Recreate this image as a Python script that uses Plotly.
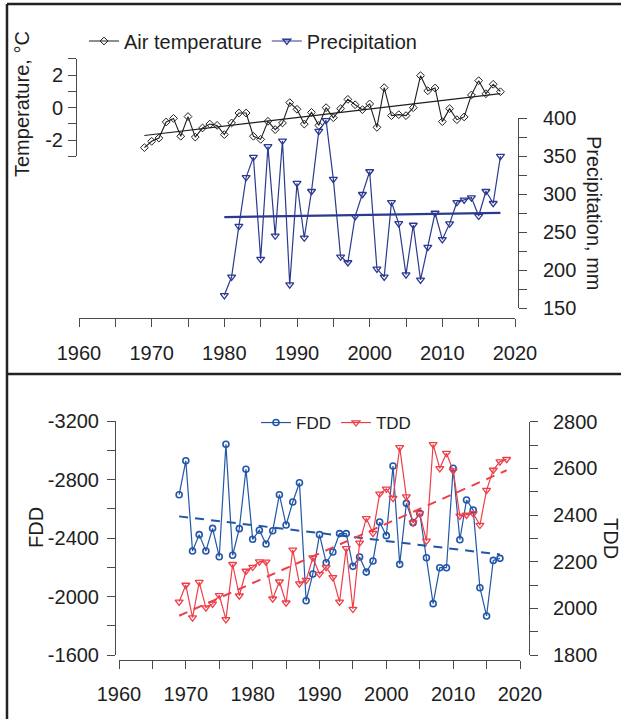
import numpy as np
import plotly.graph_objects as go

# ---------------- data ----------------
years_temp = list(range(1969, 2019))
air_temp = [-2.47, -2.08, -1.88, -0.89, -0.67, -1.77, -0.56, -1.82, -1.26, -1.02,
            -1.10, -1.67, -0.95, -0.34, -0.34, -1.77, -1.96, -0.85, -1.36, -0.95,
            0.30, -0.11, -1.02, -0.30, -1.10, -0.01, -0.63, -0.07, 0.50, 0.17,
            -0.13, 0.22, -1.22, 1.22, -0.50, -0.44, -0.50, -0.01, 1.96, 1.03,
            1.20, -0.87, -0.07, -0.75, -0.58, 0.77, 1.65, 0.85, 1.43, 0.97]

years_prec = list(range(1980, 2019))
precip = [166.7, 191, 257.8, 322, 348.5, 214.3, 362.6, 245, 370, 180.8,
          314.2, 242.4, 303.6, 382.8, 396.9, 319.5, 217.4, 209.9, 270.6, 299.7,
          329.6, 201.5, 191, 289.1, 261.4, 194, 259.2, 187, 230.1, 275,
          240.2, 261, 289.1, 292.2, 295.3, 271, 303.6, 287.8, 349.8]

years_fdd = list(range(1969, 2018))
fdd = [-2696, -2928, -2311, -2423, -2311, -2466, -2272, -3041, -2282, -2464,
       -2870, -2391, -2453, -2359, -2450, -2696, -2489, -2646, -2778, -1971,
       -2154, -2423, -2231, -2304, -2430, -2430, -2206, -2270, -2167, -2243,
       -2509, -2416, -2892, -2220, -2637, -2505, -2569, -2265, -1951, -2197,
       -2197, -2877, -2388, -2660, -2591, -2060, -1867, -2247, -2261]

years_tdd = list(range(1969, 2019))
tdd = [2028, 2100, 1960, 2112, 2003, 2019, 2056, 1953, 2189, 2054,
       2160, 2177, 2200, 2199, 2041, 2114, 2024, 2251, 2106, 2121,
       2217, 2147, 2176, 2133, 2028, 2257, 1997, 2281, 2386, 2322,
       2491, 2512, 2472, 2690, 2479, 2367, 2407, 2289, 2703, 2600,
       2665, 2590, 2396, 2400, 2407, 2357, 2507, 2593, 2629, 2639]

# tick values / labels
x_tickvals = [1960, 1965, 1970, 1975, 1980, 1985, 1990, 1995, 2000, 2005, 2010, 2015, 2020]
x_ticktext = ['1960', '', '1970', '', '1980', '', '1990', '', '2000', '', '2010', '', '2020']
t_tickvals = [-3, -2, -1, 0, 1, 2, 3]
t_ticktext = ['', '-2', '', '0', '', '2', '']
p_tickvals = [150, 175, 200, 225, 250, 275, 300, 325, 350, 375, 400]
p_ticktext = ['150', '', '200', '', '250', '', '300', '', '350', '', '400']
f_tickvals = [-3200, -3000, -2800, -2600, -2400, -2200, -2000, -1800, -1600]
f_ticktext = ['-3200', '', '-2800', '', '-2400', '', '-2000', '', '-1600']
d_tickvals = [1800, 1900, 2000, 2100, 2200, 2300, 2400, 2500, 2600, 2700, 2800]
d_ticktext = ['1800', '', '2000', '', '2200', '', '2400', '', '2600', '', '2800']

# ---------------- style ----------------
W, H = 621, 719
FONT = "Arial, Liberation Sans, Helvetica, sans-serif"
C_TEMP = '#1e1e1e'
C_PREC = '#2b3a8f'
C_FDD = '#2256a8'
C_TDD = '#ef3e48'
C_AX = '#4a4a4a'
TXT = '#1e1e1e'


def px(x):
    return x / W


def py(y):
    return 1 - y / H


def trend(xs, ys):
    k, b = np.polyfit(np.array(xs, float), np.array(ys, float), 1)
    xe = [xs[0], xs[-1]]
    return xe, [k * v + b for v in xe]


fig = go.Figure()

# top panel
fig.add_trace(go.Scatter(x=years_temp, y=air_temp, mode='lines+markers', name='Air temperature',
                         line=dict(color=C_TEMP, width=1.1),
                         marker=dict(symbol='diamond-open', size=6, color=C_TEMP, line=dict(width=1)),
                         xaxis='x', yaxis='y', cliponaxis=False, legend='legend'))
tx, ty = trend(years_temp, air_temp)
fig.add_trace(go.Scatter(x=tx, y=ty, mode='lines', line=dict(color=C_TEMP, width=1.1),
                         showlegend=False, xaxis='x', yaxis='y', hoverinfo='skip'))
fig.add_trace(go.Scatter(x=years_prec, y=precip, mode='lines+markers', name='Precipitation',
                         line=dict(color=C_PREC, width=1.2),
                         marker=dict(symbol='triangle-down-open', size=7, color=C_PREC, line=dict(width=1.3)),
                         xaxis='x', yaxis='y2', cliponaxis=False, legend='legend'))
pxs, pys = trend(years_prec, precip)
fig.add_trace(go.Scatter(x=pxs, y=pys, mode='lines', line=dict(color=C_PREC, width=2.2),
                         showlegend=False, xaxis='x', yaxis='y2', hoverinfo='skip'))

# bottom panel
fig.add_trace(go.Scatter(x=years_fdd, y=fdd, mode='lines+markers', name='FDD',
                         line=dict(color=C_FDD, width=1.2),
                         marker=dict(symbol='circle-open', size=6, color=C_FDD, line=dict(width=1.6)),
                         xaxis='x2', yaxis='y3', cliponaxis=False, legend='legend2'))
fx, fy = trend(years_fdd, fdd)
fig.add_trace(go.Scatter(x=fx, y=fy, mode='lines', line=dict(color=C_FDD, width=2, dash='9px,7px'),
                         showlegend=False, xaxis='x2', yaxis='y3', hoverinfo='skip'))
fig.add_trace(go.Scatter(x=years_tdd, y=tdd, mode='lines+markers', name='TDD',
                         line=dict(color=C_TDD, width=1.2),
                         marker=dict(symbol='triangle-down-open', size=7, color=C_TDD, line=dict(width=1.3)),
                         xaxis='x2', yaxis='y4', cliponaxis=False, legend='legend2'))
dx, dy = trend(years_tdd, tdd)
fig.add_trace(go.Scatter(x=dx, y=dy, mode='lines', line=dict(color=C_TDD, width=2, dash='9px,7px'),
                         showlegend=False, xaxis='x2', yaxis='y4', hoverinfo='skip'))

common = dict(showgrid=False, zeroline=False, showline=True, linecolor=C_AX, linewidth=1,
              ticks='outside', tickcolor=C_AX, tickwidth=1, ticklen=8, automargin=False,
              tickfont=dict(family=FONT, size=20, color=TXT), tickmode='array', fixedrange=True)

fig.update_layout(
    template='none',
    width=W, height=H, margin=dict(l=0, r=0, t=0, b=0, pad=0, autoexpand=False),
    paper_bgcolor='white', plot_bgcolor='rgba(0,0,0,0)',
    font=dict(family=FONT, color=TXT),
    xaxis=dict(domain=[px(79), px(515)], range=[1960, 2020], anchor='free', position=py(318),
               tickvals=x_tickvals, ticktext=x_ticktext, ticklabelstandoff=9, **common),
    yaxis=dict(domain=[py(156.25), py(58.75)], range=[-3, 3], anchor='free', position=px(76),
               side='left', tickvals=t_tickvals, ticktext=t_ticktext, ticklabelstandoff=1, **common),
    yaxis2=dict(domain=[py(308), py(118)], range=[150, 400], anchor='free', position=px(518),
                side='right', tickvals=p_tickvals, ticktext=p_ticktext, ticklabelstandoff=12, **common),
    xaxis2=dict(domain=[px(119), px(520)], range=[1960, 2020], anchor='free', position=py(660),
                tickvals=x_tickvals, ticktext=x_ticktext, ticklabelstandoff=8, **common),
    yaxis3=dict(domain=[py(655), py(421)], range=[-1600, -3200], anchor='free', position=px(115),
                side='left', tickvals=f_tickvals, ticktext=f_ticktext, ticklabelstandoff=4, **common),
    yaxis4=dict(domain=[py(655), py(421.7)], range=[1800, 2800], anchor='free', position=px(529),
                side='right', tickvals=d_tickvals, ticktext=d_ticktext, ticklabelstandoff=11, **common),
    legend=dict(orientation='h', x=px(84), y=py(41), xanchor='left', yanchor='middle',
                font=dict(family=FONT, size=20, color=TXT), bgcolor='rgba(0,0,0,0)',
                itemwidth=30, borderwidth=0),
    legend2=dict(orientation='h', x=px(256), y=py(423), xanchor='left', yanchor='middle',
                 font=dict(family=FONT, size=17, color=TXT), bgcolor='rgba(0,0,0,0)',
                 itemwidth=30, borderwidth=0),
    showlegend=True,
)

# axis titles
titles = [
    ('Temperature, °C', 22, 104, -90),
    ('Precipitation, mm', 594, 213, 90),
    ('FDD', 36, 528, -90),
    ('TDD', 611, 538, 90),
]
for txt, x, y, ang in titles:
    fig.add_annotation(text=txt, x=px(x), y=py(y), xref='paper', yref='paper', showarrow=False,
                       textangle=ang, xanchor='center', yanchor='middle',
                       font=dict(family=FONT, size=20, color=TXT))

# frame lines
frame = dict(color='#222222', width=2.5)
fig.add_shape(type='line', xref='paper', yref='paper', x0=px(7), x1=1.0, y0=py(4), y1=py(4), line=frame)
fig.add_shape(type='line', xref='paper', yref='paper', x0=px(7), x1=1.0, y0=py(374), y1=py(374), line=frame)
fig.add_shape(type='line', xref='paper', yref='paper', x0=px(7), x1=px(7), y0=py(4), y1=0.0, line=frame)

fig.write_html("out.html")
